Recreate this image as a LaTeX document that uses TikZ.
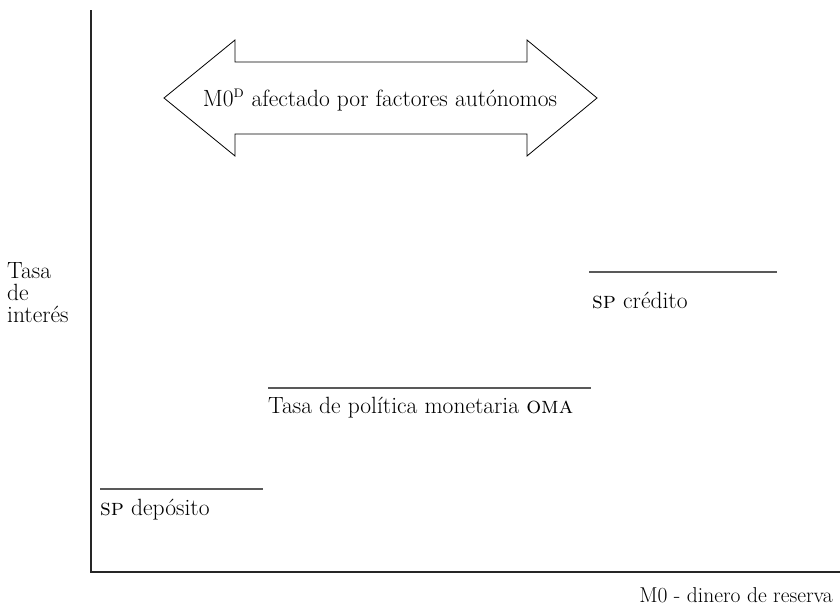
\documentclass[tikz,border=0pt]{standalone}
\begin{document}
\begin{tikzpicture}[x=1pt,y=-1pt,
  lbl/.style={inner sep=0pt,font=\fontsize{23.5}{22}\selectfont},
  axis/.style={line width=1.3pt,draw=black!85},
  level/.style={line width=1.3pt,draw=black!65}]
\useasboundingbox (0,0) rectangle (840,611);
% axes
\coordinate (o) at (91,572);
\coordinate (ytop) at (91,10);
\coordinate (xend) at (840,572);
\draw[axis] (ytop) -- (o) -- (xend);
% levels
\coordinate (d1) at (100,489); \coordinate (d2) at (263,489);
\coordinate (p1) at (268,388); \coordinate (p2) at (591,388);
\coordinate (c1) at (589,272); \coordinate (c2) at (777,272);
\draw[level] (d1) -- (d2);
\draw[level] (p1) -- (p2);
\draw[level] (c1) -- (c2);
\node[lbl,anchor=base west] (dep) at (100,515) {\textsc{sp} depósito};
\node[lbl,anchor=base west] (pol) at (268,413) {Tasa de política monetaria \textsc{oma}};
\node[lbl,anchor=base west] (cred) at (592,308) {\textsc{sp} crédito};
\node[lbl,anchor=base east,font=\fontsize{21.5}{22}\selectfont] (xl) at (833,602) {M0 - dinero de reserva};
\node[lbl,anchor=base west,align=left] (yl) at (7,322) {Tasa\\de\\interés};
% double arrow
\draw[line width=0.8pt] (164,98) -- (235,40) -- (235,62) -- (527,62) -- (527,40) -- (597,98)
  -- (527,156) -- (527,134) -- (235,134) -- (235,156) -- cycle;
\node[lbl] (arr) at (380,100) {M0\textsuperscript{\textsc{d}} afectado por factores autónomos};
\end{tikzpicture}
\end{document}
